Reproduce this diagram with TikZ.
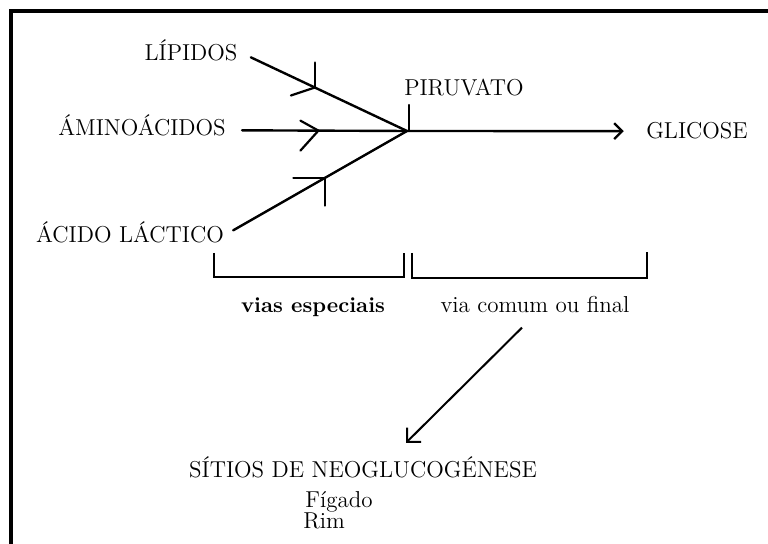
\documentclass[tikz,border=0pt]{standalone}
\usepackage{tikz}
\usetikzlibrary{arrows.meta,positioning}
\tikzset{
  rotulo/.style={inner sep=3pt,font=\fontsize{11.5}{14}\selectfont},
  rotulob/.style={inner sep=3pt,font=\fontsize{10.8}{13}\selectfont\bfseries},
  via/.style={line width=1.2pt,line cap=round},
  marca/.style={line width=1.1pt,line cap=round},
  chave/.style={line width=1pt},
  seta/.style={-{Straight Barb[length=4pt,width=8pt]},line width=1.2pt},
  setad/.style={-{Straight Barb[length=5pt,width=10pt]},line width=1pt},
  moldura/.style={line width=1.6pt}
}
\begin{document}
\begin{tikzpicture}[x=0.5pt,y=-0.5pt]
  \useasboundingbox (0,0) rectangle (768,544);
  \draw[moldura] (11,544) -- (11,11) -- (768,11);

  % substratos
  \node[rotulo,anchor=base] (lip) at (191,61) {LÍPIDOS};
  \node[rotulo,anchor=base] (ami) at (142,136) {ÁMINOÁCIDOS};
  \node[rotulo,anchor=base] (aci) at (130,243) {ÁCIDO LÁCTICO};
  \node[rotulo,anchor=base] (piru) at (464,96) {PIRUVATO};
  \node[rotulo,anchor=base] (glic) at (697,139) {GLICOSE};
  \coordinate (jn) at (407,131);

  \node[rotulob,anchor=base] (vias) at (313,313) {vias especiais};
  \node[rotulo,anchor=base] (vcf) at (535,313) {via comum ou final};
  \node[rotulo,anchor=base] (sit) at (363,478) {SÍTIOS DE NEOGLUCOGÉNESE};
  \node[rotulo,anchor=base west] (fig) at (299,508) {Fígado};
  \node[rotulo,anchor=base west] (rim) at (297,529) {Rim};

  \draw[via] ([shift={(7,6.5)}]lip.east) -- (jn) coordinate[pos=0.41] (lipM);
  \draw[via] ([shift={(10,4.5)}]ami.east) -- (jn) coordinate[pos=0.463] (amiM);
  \draw[via] ([shift={(3,-2.5)}]aci.east) -- (jn) coordinate[pos=0.53] (aciM);

  % marcas das setas nas vias especiais
  \draw[marca] (lipM) -- ++(0,-25);
  \draw[marca] (lipM) -- ++(-24,8);
  \draw[marca] (amiM) -- ++(-18,-10);
  \draw[marca] (amiM) -- ++(-18,20);
  \draw[marca] (aciM) -- ++(-32,0);
  \draw[marca] (aciM) -- ++(0,28);
  \draw[marca] ([shift={(2,0)}]jn) -- ++(0,-26);

  \draw[seta] (jn) -- ([shift={(-16,0)}]glic.west);

  % chaves
  \draw[chave] (214,253) -- (214,277) -- (404,277) -- (404,253);
  \draw[chave] (412,253) -- (412,278) -- (647,278) -- (647,252);

  \draw[setad] ([shift={(-13,8)}]vcf.south) -- ([shift={(43,-8)}]sit.north);

\end{tikzpicture}
\end{document}
